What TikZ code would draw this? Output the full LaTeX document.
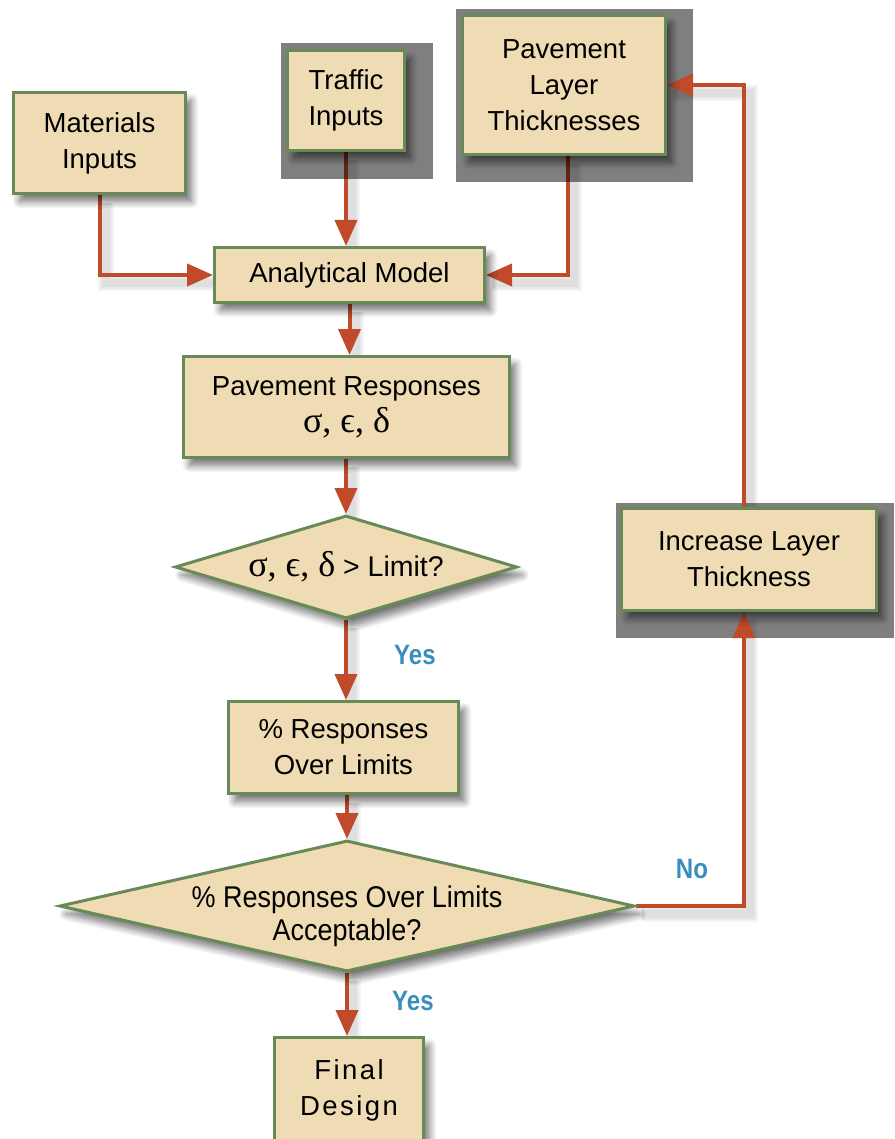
\documentclass[tikz,border=0pt]{standalone}
\usepackage{fontspec}
\usepackage{graphicx}
\setmainfont{Liberation Sans}
\newfontfamily\grk{Liberation Serif}
\usetikzlibrary{arrows.meta,shapes.geometric,shadows.blur}
\pgfdeclarelayer{bg}\pgfdeclarelayer{mid}
\pgfsetlayers{bg,mid,main}
\definecolor{boxfill}{RGB}{240,220,180}
\definecolor{boxline}{RGB}{104,138,86}
\definecolor{arrowc}{RGB}{192,74,42}
\definecolor{labc}{RGB}{58,142,190}
\newcommand{\gk}[1]{{\grk\fontsize{36}{36}\selectfont #1}}
\newcommand{\cond}[1]{\scalebox{0.86}[1]{#1}}
\newcommand{\condd}[1]{\scalebox{0.9}[1]{#1}}
\begin{document}
\begin{tikzpicture}[x=1pt,y=-1pt,
  box/.style={draw=boxline, line width=3pt, fill=boxfill, rectangle, align=center,
    font=\fontsize{27.5}{36}\selectfont, inner sep=0pt,
    blur shadow={shadow xshift=6pt, shadow yshift=-8pt, shadow blur radius=7pt, shadow blur steps=10, shadow opacity=55}},
  dec/.style={box, shape=diamond},
  flow/.style={draw=arrowc, line width=4pt, -{Triangle[length=26pt,width=22pt]}},
  fshadow/.style={draw=black, opacity=0.045, line width=#1, transform canvas={xshift=6pt,yshift=-8pt}},
  lab/.style={text=labc, font=\bfseries\fontsize{28}{30}\selectfont, inner sep=0pt},
  grey/.style={fill=black, opacity=0.5}
]
\useasboundingbox (0,0) rectangle (894,1139);

\node[box, minimum width=172pt, minimum height=101pt] (mat) at (99.5,143) {Materials\\Inputs};
\node[box, minimum width=117pt, minimum height=100pt] (traffic) at (346,100.5) {Traffic\\Inputs};
\node[box, minimum width=203pt, minimum height=139pt] (pl) at (564,85) {Pavement\\Layer\\Thicknesses};
\node[box, minimum width=270pt, minimum height=55pt] (am) at (349.5,275) {Analytical Model};
\node[box, minimum width=326pt, minimum height=101pt] (pr) at (346.5,407) {Pavement Responses\\[1pt]\gk{σ, ϵ, δ}};
\node[dec, minimum width=342pt, minimum height=103pt,
  label={[font=\fontsize{28.5}{36}\selectfont]center:\gk{σ, ϵ, δ} > Limit?}] (d1) at (346,567) {};
\node[box, minimum width=230pt, minimum height=92pt] (over) at (343.5,747.5) {\% Responses\\Over Limits};
\node[dec, minimum width=575pt, minimum height=131pt,
  label={[font=\fontsize{30}{33}\selectfont, align=center, yshift=-10pt]center:\condd{\% Responses Over Limits}\\\condd{Acceptable?}}] (d2) at (347,906) {};
\node[box, minimum width=149pt, minimum height=105pt, font=\fontsize{27.5}{36}\selectfont\addfontfeature{LetterSpace=9}] (fin) at (349,1090) {Final\\Design};
\node[box, minimum width=255pt, minimum height=102pt] (inc) at (749,559.5) {Increase Layer\\Thickness};

\node[lab] (yes1) at (415,655) {\cond{Yes}};
\node[lab] (yes2) at (413,1001) {\cond{Yes}};
\node[lab] (no) at (692,869) {\cond{No}};

\begin{pgfonlayer}{bg}
  \foreach \w in {16pt,12pt,8pt}{
  \draw[fshadow=\w] (mat.south) |- (am.west);
  \draw[fshadow=\w] (traffic.south) -- (traffic.south |- am.north);
  \draw[fshadow=\w] ([xshift=4pt]pl.south) |- (am.east);
  }
  \draw[flow] (mat.south) |- (am.west);
  \draw[flow] (traffic.south) -- (traffic.south |- am.north);
  \draw[flow] ([xshift=4pt]pl.south) |- (am.east);
\end{pgfonlayer}

\begin{pgfonlayer}{mid}
  \fill[grey] (281,43) rectangle (433,179);
  \fill[grey] (456,9) rectangle (693,182);
  \fill[grey] (616,503) rectangle (894,638);
  \foreach \w in {16pt,12pt,8pt}{
  \draw[fshadow=\w] (am.south) -- (am.south |- pr.north);
  \draw[fshadow=\w] (pr.south -| d1.north) -- (d1.north);
  \draw[fshadow=\w] (d1.south) -- (d1.south |- over.north);
  \draw[fshadow=\w] (over.south -| d2.north) -- (d2.north);
  \draw[fshadow=\w] (d2.south) -- (d2.south |- fin.north);
  \draw[fshadow=\w] (d2.east) -| ([xshift=-5pt]inc.south);
  \draw[fshadow=\w] ([xshift=-5pt]inc.north) |- (pl.east);
  }
  \draw[flow] (am.south) -- (am.south |- pr.north);
  \draw[flow] (pr.south -| d1.north) -- (d1.north);
  \draw[flow] (d1.south) -- (d1.south |- over.north);
  \draw[flow] (over.south -| d2.north) -- (d2.north);
  \draw[flow] (d2.south) -- (d2.south |- fin.north);
  \draw[flow] (d2.east) -| ([xshift=-5pt]inc.south);
  \draw[flow] ([xshift=-5pt]inc.north) |- (pl.east);
\end{pgfonlayer}
\end{tikzpicture}
\end{document}
